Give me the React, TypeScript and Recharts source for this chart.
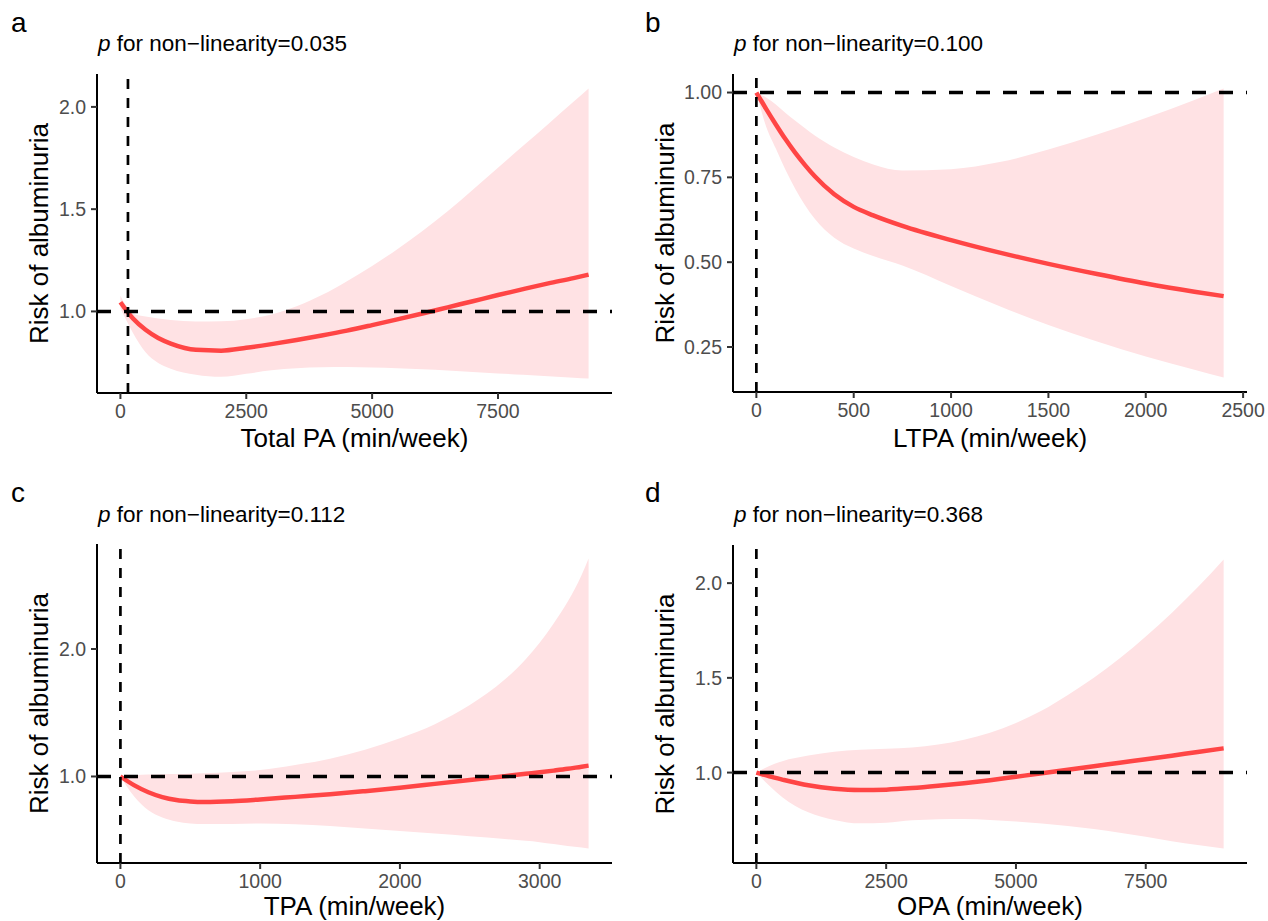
import React from 'react';
import { ComposedChart, Area, Line, XAxis, YAxis, ReferenceLine } from 'recharts';

const FONT = '"Liberation Sans", Arial, Helvetica, sans-serif';
const LINE_RED = '#FF4545';
const BAND_PINK = '#FFE2E4';

// a – Total PA
const totalX = [0, 250, 500, 750, 1000, 1500, 2000, 2500, 3000, 3500, 4000, 4500, 5000, 5500, 6000, 6500, 7000, 7500, 8000, 8500, 9000, 9300];
const totalFit = [1.045, 0.965, 0.91, 0.87, 0.843, 0.812, 0.808, 0.822, 0.84, 0.86, 0.882, 0.906, 0.933, 0.961, 0.99, 1.02, 1.05, 1.08, 1.109, 1.137, 1.163, 1.18];
const totalLower = [1.015, 0.895, 0.8, 0.748, 0.72, 0.69, 0.68, 0.695, 0.712, 0.722, 0.727, 0.728, 0.726, 0.722, 0.717, 0.711, 0.704, 0.697, 0.69, 0.683, 0.676, 0.672];
const totalUpper = [1.077, 0.99, 0.975, 0.965, 0.958, 0.951, 0.952, 0.962, 0.985, 1.025, 1.08, 1.148, 1.222, 1.304, 1.393, 1.49, 1.595, 1.703, 1.81, 1.917, 2.025, 2.09];

// b – LTPA
const ltpaX = [0, 50, 100, 150, 200, 250, 300, 400, 500, 600, 750, 1000, 1250, 1500, 1750, 2000, 2250, 2400];
const ltpaFit = [1.0, 0.952, 0.906, 0.862, 0.822, 0.786, 0.753, 0.7, 0.663, 0.638, 0.607, 0.565, 0.528, 0.495, 0.465, 0.437, 0.413, 0.4];
const ltpaLower = [1.0, 0.9, 0.835, 0.772, 0.716, 0.668, 0.628, 0.572, 0.54, 0.518, 0.49, 0.43, 0.37, 0.315, 0.266, 0.222, 0.183, 0.16];
const ltpaUpper = [1.0, 0.985, 0.965, 0.94, 0.917, 0.895, 0.873, 0.838, 0.81, 0.788, 0.77, 0.774, 0.795, 0.832, 0.876, 0.925, 0.978, 1.012];

// c – TPA
const tpaX = [0, 100, 200, 300, 400, 500, 600, 800, 1000, 1250, 1500, 1750, 2000, 2250, 2500, 2750, 2900, 3000, 3100, 3200, 3300, 3350];
const tpaFit = [1.0, 0.93, 0.876, 0.838, 0.815, 0.804, 0.8, 0.806, 0.82, 0.84, 0.86, 0.885, 0.912, 0.942, 0.972, 1.002, 1.021, 1.033, 1.046, 1.06, 1.077, 1.085];
const tpaLower = [1.0, 0.84, 0.735, 0.678, 0.647, 0.632, 0.627, 0.628, 0.632, 0.625, 0.612, 0.592, 0.572, 0.552, 0.532, 0.51, 0.495, 0.485, 0.47, 0.455, 0.442, 0.435];
const tpaUpper = [1.0, 1.01, 1.015, 1.018, 1.02, 1.022, 1.025, 1.035, 1.05, 1.09, 1.14, 1.21, 1.3, 1.41, 1.56, 1.76, 1.92, 2.05, 2.2, 2.37, 2.58, 2.71];

// d – OPA
const opaX = [0, 250, 500, 1000, 1500, 2000, 2500, 3000, 3500, 4000, 4500, 5000, 5500, 6000, 6500, 7000, 7500, 8000, 8500, 9000];
const opaFit = [1.0, 0.98, 0.963, 0.933, 0.915, 0.908, 0.91, 0.918, 0.93, 0.944, 0.96, 0.978, 0.996, 1.015, 1.033, 1.052, 1.07, 1.089, 1.109, 1.128];
const opaLower = [1.0, 0.93, 0.87, 0.79, 0.75, 0.732, 0.735, 0.748, 0.754, 0.755, 0.75, 0.742, 0.731, 0.718, 0.702, 0.683, 0.661, 0.638, 0.618, 0.599];
const opaUpper = [1.0, 1.035, 1.06, 1.09, 1.11, 1.12, 1.126, 1.133, 1.148, 1.173, 1.21, 1.262, 1.328, 1.41, 1.5, 1.603, 1.718, 1.843, 1.978, 2.125];

const xTicksWide = [0, 2500, 5000, 7500];
const xTicksLtpa = [0, 500, 1000, 1500, 2000, 2500];
const xTicksTpa = [0, 1000, 2000, 3000];
const yTicksA = [1.0, 1.5, 2.0];
const yTicksB = [0.25, 0.5, 0.75, 1.0];
const yTicksC = [1.0, 2.0];

// ggplot-style 5% expansion around the data (and the reference lines)
const expand = (vals: number[]) => {
  const lo = Math.min(...vals);
  const hi = Math.max(...vals);
  const d = (hi - lo) * 0.05;
  return [lo - d, hi + d];
};

type Spec = {
  key: string;
  letter: string;
  pval: string;
  xTitle: string;
  x: number[];
  fit: number[];
  lower: number[];
  upper: number[];
  vline: number;
  xTicks: number[];
  yTicks: number[];
  digits: number;
  left: number;
  top: number;
  height: number;
  plotTop: number;
  right: number;
  yAxisWidth: number;
  xAxisHeight: number;
  yTitleOffset: number;
  xTitleOffset: number;
  letterBase: number;
  titleBase: number;
};

const panels: Spec[] = [
  {
    key: 'a', letter: 'a', pval: '0.035', xTitle: 'Total PA (min/week)',
    x: totalX, fit: totalFit, lower: totalLower, upper: totalUpper, vline: 150,
    xTicks: xTicksWide, yTicks: yTicksA, digits: 1,
    left: 0, top: 0, height: 460, plotTop: 74, right: 22, yAxisWidth: 97, xAxisHeight: 67,
    yTitleOffset: 39, xTitleOffset: 13, letterBase: 32, titleBase: 51,
  },
  {
    key: 'b', letter: 'b', pval: '0.100', xTitle: 'LTPA (min/week)',
    x: ltpaX, fit: ltpaFit, lower: ltpaLower, upper: ltpaUpper, vline: 0,
    xTicks: xTicksLtpa, yTicks: yTicksB, digits: 2,
    left: 634, top: 0, height: 460, plotTop: 74, right: 21, yAxisWidth: 99, xAxisHeight: 68,
    yTitleOffset: 31, xTitleOffset: 13, letterBase: 32, titleBase: 51,
  },
  {
    key: 'c', letter: 'c', pval: '0.112', xTitle: 'TPA (min/week)',
    x: tpaX, fit: tpaFit, lower: tpaLower, upper: tpaUpper, vline: 0,
    xTicks: xTicksTpa, yTicks: yTicksC, digits: 1,
    left: 0, top: 460, height: 461, plotTop: 84, right: 22, yAxisWidth: 97, xAxisHeight: 58,
    yTitleOffset: 39, xTitleOffset: 6, letterBase: 42, titleBase: 62,
  },
  {
    key: 'd', letter: 'd', pval: '0.368', xTitle: 'OPA (min/week)',
    x: opaX, fit: opaFit, lower: opaLower, upper: opaUpper, vline: 0,
    xTicks: xTicksWide, yTicks: yTicksA, digits: 1,
    left: 634, top: 460, height: 461, plotTop: 85, right: 21, yAxisWidth: 99, xAxisHeight: 58,
    yTitleOffset: 31, xTitleOffset: 6, letterBase: 42, titleBase: 62,
  },
];

const Panel = ({ s }: { s: Spec }) => {
  const rows = s.x.map((x, i) => ({ x, fit: s.fit[i], band: [s.lower[i], s.upper[i]] }));
  const xDomain = expand([...s.x, s.vline]);
  const yDomain = expand([...s.lower, ...s.upper, 1]);

  return (
    <div style={{ position: 'absolute', left: s.left, top: s.top }}>
      <ComposedChart
        width={634}
        height={s.height}
        data={rows}
        margin={{ top: s.plotTop, right: s.right, bottom: 0, left: 0 }}
      >
        <XAxis
          type="number"
          dataKey="x"
          domain={xDomain}
          ticks={s.xTicks}
          interval={0}
          height={s.xAxisHeight}
          axisLine={{ stroke: '#000', strokeWidth: 2 }}
          tickLine={{ stroke: '#333', strokeWidth: 2 }}
          tickSize={6}
          tickMargin={5}
          tick={{ fill: '#4D4D4D', fontSize: 19.5, fontFamily: FONT }}
          label={{
            value: s.xTitle,
            position: 'insideBottom',
            offset: s.xTitleOffset,
            fill: '#000',
            fontSize: 26,
            fontFamily: FONT,
          }}
        />
        <YAxis
          type="number"
          domain={yDomain}
          ticks={s.yTicks}
          interval={0}
          width={s.yAxisWidth}
          tickFormatter={(v: number) => v.toFixed(s.digits)}
          axisLine={{ stroke: '#000', strokeWidth: 2 }}
          tickLine={{ stroke: '#333', strokeWidth: 2 }}
          tickSize={6}
          tickMargin={5}
          tick={{ fill: '#4D4D4D', fontSize: 19.5, fontFamily: FONT }}
          label={{
            value: 'Risk of albuminuria',
            angle: -90,
            position: 'insideLeft',
            offset: s.yTitleOffset,
            style: { textAnchor: 'middle' },
            fill: '#000',
            fontSize: 26,
            fontFamily: FONT,
          }}
        />
        <Area
          type="monotone"
          dataKey="band"
          stroke="none"
          fill={BAND_PINK}
          fillOpacity={1}
          isAnimationActive={false}
        />
        <Line
          type="monotone"
          dataKey="fit"
          stroke={LINE_RED}
          strokeWidth={4.5}
          dot={false}
          activeDot={false}
          isAnimationActive={false}
        />
        <ReferenceLine y={1} stroke="#000" strokeWidth={3.5} strokeDasharray="14 13" />
        <ReferenceLine x={s.vline} stroke="#000" strokeWidth={2.7} strokeDasharray="10 9" />
      </ComposedChart>
    </div>
  );
};

const App = () => {
  return (
    <div style={{ position: 'absolute', left: 0, top: 0, width: 1268, height: 921, background: '#fff', overflow: 'hidden' }}>
      {panels.map((s) => (
        <Panel key={s.key} s={s} />
      ))}
      <svg
        width={1268}
        height={921}
        style={{ position: 'absolute', left: 0, top: 0, pointerEvents: 'none' }}
        fontFamily={FONT}
      >
        {panels.map((s) => (
          <g key={s.key}>
            <text x={s.left + 11} y={s.top + s.letterBase} fontSize={28} fill="#000">{s.letter}</text>
            <text x={s.left + s.yAxisWidth + 1} y={s.top + s.titleBase} fontSize={22.5} fill="#000">
              <tspan fontStyle="italic">p</tspan> for non−linearity={s.pval}
            </text>
          </g>
        ))}
      </svg>
    </div>
  );
};

export default App;
